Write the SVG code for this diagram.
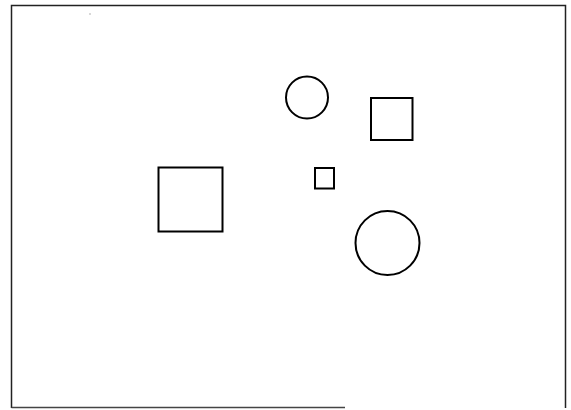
<svg xmlns="http://www.w3.org/2000/svg" width="571" height="410" viewBox="0 0 571 410">
<style>
.s{fill:none;stroke:#000;stroke-width:2}
.b{fill:none;stroke:#222;stroke-width:1.5}
</style>
<rect width="571" height="410" fill="#fff"/>
<g id="frame">
<path class="b" d="M11.5,408 V5.5 H565.5 V408"/>
<path d="M11.5,407.5 H345" stroke="#444" stroke-width="1.5" fill="none"/>
<rect x="89.5" y="13.5" width="1" height="1" fill="#666"/>
</g>
<g id="circle-small"><circle class="s" cx="307" cy="97.5" r="21"/></g>
<g id="square-right"><rect class="s" x="371" y="98" width="41.5" height="42"/></g>
<g id="square-large"><rect class="s" x="158.5" y="167.5" width="64" height="64" stroke-width="2.5"/></g>
<g id="square-small"><rect class="s" x="315" y="168" width="19" height="20.5"/></g>
<g id="circle-large"><circle class="s" cx="387.5" cy="243" r="32"/></g>
<g id="connectors"></g>
</svg>
